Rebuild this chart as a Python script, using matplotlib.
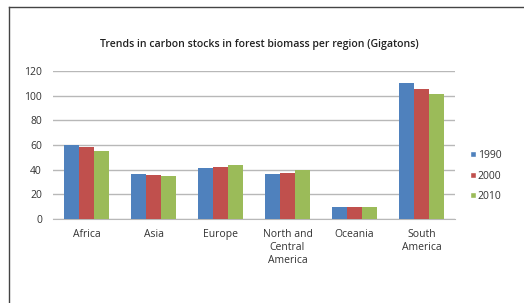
import numpy as np
import matplotlib
matplotlib.use("Agg")
import matplotlib.pyplot as plt
from matplotlib.lines import Line2D

regions = ["Africa", "Asia", "Europe", "North and\nCentral\nAmerica", "Oceania", "South\nAmerica"]
years = ["1990", "2000", "2010"]
c1990 = [60, 36.5, 41.5, 36.5, 10, 110]
c2000 = [58, 36, 42, 37.5, 10, 105.5]
c2010 = [55, 35, 44, 40, 10, 101]
colors = ["#4F81BD", "#C0504D", "#9BBB59"]

plt.rcParams['font.family'] = ['Open Sans', 'DejaVu Sans']

fig = plt.figure(figsize=(5.24, 3.03), dpi=100)
ax = fig.add_axes([53/524, 1 - 219/303, (455-53)/524, (219-71)/303])

x = np.arange(len(regions))
w = 0.22
for k, vals in enumerate([c1990, c2000, c2010]):
    ax.bar(x + (k - 1) * w, vals, width=w, color=colors[k], label=years[k], zorder=3)

ax.set_xlim(-0.5, len(regions) - 0.5)
ax.set_ylim(0, 120)
ax.set_yticks(range(0, 121, 20))
ax.grid(axis="y", color="#b8b8b8", linewidth=1, zorder=0)
for s in ["top", "right", "left"]:
    ax.spines[s].set_visible(False)
ax.spines["bottom"].set_color("#b8b8b8")
ax.tick_params(axis="both", length=0, labelsize=7.5, colors="#333333")
ax.tick_params(axis="y", pad=8)
ax.tick_params(axis="x", pad=7)
ax.set_xticks(x)
ax.set_xticklabels(regions, linespacing=1.25)

fig.text(0.494, 1 - 45/303, "Trends in carbon stocks in forest biomass per region (Gigatons)",
         ha="center", va="center", fontsize=7.6, fontweight="semibold", color="#222222")

handles = [Line2D([0], [0], marker="s", color="w", markerfacecolor=c, markersize=4.5) for c in colors]
fig.legend(handles, years, loc="center left", bbox_to_anchor=(460/524, 1 - 176/303),
           frameon=False, fontsize=7.5, handlelength=0.6, handletextpad=0.2,
           labelspacing=0.9, labelcolor="#333333")

# outer frame lines (top and left)
fig.add_artist(Line2D([9/524, 1], [1 - 7/303, 1 - 7/303], transform=fig.transFigure, color="#444444", linewidth=1))
fig.add_artist(Line2D([9/524, 9/524], [0, 1 - 7/303], transform=fig.transFigure, color="#444444", linewidth=1))

fig.savefig("out.png", dpi=100)
